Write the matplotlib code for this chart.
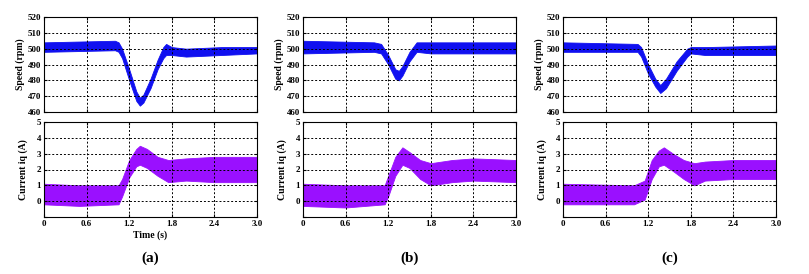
"""speed / iq response, three cases"""
import numpy as np
import matplotlib
matplotlib.use("Agg")
import matplotlib.pyplot as plt

plt.rcParams['font.family'] = ['Liberation Serif', 'DejaVu Serif']
plt.rcParams['font.weight'] = 'bold'

# envelope of the noisy traces: time, lower, upper
speed_a_t = [0, 1.0, 1.05, 1.1, 1.2, 1.3, 1.35, 1.4, 1.5, 1.6, 1.68, 1.72, 1.8, 2.0, 2.5, 3.0]
speed_a_lo = [498, 499, 498, 494, 480, 467, 464, 466, 475, 487, 494, 496, 496, 495, 496, 497]
speed_a_hi = [504, 505, 504, 500, 487, 473, 469, 471, 481, 493, 501, 503, 501, 500, 501, 501]

cur_a_t = [0, 0.5, 1.05, 1.1, 1.2, 1.3, 1.35, 1.45, 1.6, 1.75, 2.0, 2.4, 3.0]
cur_a_lo = [-0.2, -0.3, -0.2, 0.3, 1.5, 2.2, 2.3, 2.1, 1.6, 1.2, 1.3, 1.2, 1.2]
cur_a_hi = [1.1, 1.0, 1.0, 1.4, 2.6, 3.3, 3.5, 3.3, 2.8, 2.6, 2.7, 2.8, 2.8]

speed_b_t = [0, 1.0, 1.1, 1.2, 1.3, 1.35, 1.4, 1.5, 1.6, 1.8, 3.0]
speed_b_lo = [497, 498, 497, 490, 481, 480, 483, 492, 498, 497, 497]
speed_b_hi = [505, 504, 503, 496, 487, 486, 489, 498, 504, 504, 504]

cur_b_t = [0, 0.6, 1.15, 1.2, 1.3, 1.4, 1.5, 1.65, 1.8, 2.1, 2.4, 3.0]
cur_b_lo = [-0.3, -0.4, -0.2, 0.3, 1.6, 2.3, 2.1, 1.4, 1.0, 1.2, 1.3, 1.2]
cur_b_hi = [1.1, 1.0, 1.0, 1.6, 2.8, 3.4, 3.1, 2.6, 2.4, 2.6, 2.7, 2.6]

speed_c_t = [0, 1.05, 1.1, 1.2, 1.3, 1.37, 1.45, 1.6, 1.75, 1.8, 2.0, 3.0]
speed_c_lo = [498, 498, 495, 484, 476, 472, 475, 486, 495, 497, 496, 496]
speed_c_hi = [504, 503, 501, 490, 481, 477, 481, 492, 500, 501, 501, 502]

cur_c_t = [0, 1.0, 1.15, 1.25, 1.35, 1.42, 1.55, 1.7, 1.85, 2.0, 2.4, 3.0]
cur_c_lo = [-0.2, -0.2, 0.1, 1.4, 2.2, 2.3, 1.9, 1.4, 1.0, 1.3, 1.4, 1.4]
cur_c_hi = [1.1, 1.0, 1.3, 2.6, 3.2, 3.4, 3.0, 2.6, 2.4, 2.5, 2.6, 2.6]

panel_labels = ['(a)', '(b)', '(c)']
x_ticks = [0, 0.6, 1.2, 1.8, 2.4, 3.0]
x_ticklabels = ['0', '0.6', '1.2', '1.8', '2.4', '3.0']

SPEED_COLOR = '#1010f0'
CUR_COLOR = '#9a10ff'
W, H = 809, 274


def style_axes(ax):
    """grid, ticks, fonts"""
    ax.grid(color='black', ls=(0, (2, 2)), lw=0.7)
    ax.tick_params(direction='in', length=2, labelsize=6.5, pad=2,
                   top=True, right=True)
    for lbl in ax.get_xticklabels() + ax.get_yticklabels():
        lbl.set_fontweight('bold')
    for sp in ax.spines.values():
        sp.set_linewidth(0.8)


def main():
    """main"""
    fig = plt.figure(figsize=(W / 100, H / 100), dpi=100)
    lefts = [44, 303, 563]
    width = 213
    speeds = [(speed_a_t, speed_a_lo, speed_a_hi),
              (speed_b_t, speed_b_lo, speed_b_hi),
              (speed_c_t, speed_c_lo, speed_c_hi)]
    currents = [(cur_a_t, cur_a_lo, cur_a_hi),
                (cur_b_t, cur_b_lo, cur_b_hi),
                (cur_c_t, cur_c_lo, cur_c_hi)]

    for i in range(3):
        x0 = lefts[i] / W
        w = width / W
        ax1 = fig.add_axes([x0, 1 - 112 / H, w, 95 / H])
        ax2 = fig.add_axes([x0, 1 - 217 / H, w, 95 / H])

        t, lo, hi = speeds[i]
        ax1.fill_between(t, lo, hi, color=SPEED_COLOR, lw=0.6, edgecolor=SPEED_COLOR)
        ax1.set_xlim(0, 3.0)
        ax1.set_ylim(460, 520)
        ax1.set_yticks(np.arange(460, 521, 10))
        ax1.set_xticks(x_ticks)
        ax1.set_xticklabels([])
        ax1.set_ylabel('Speed (rpm)', fontsize=7, fontweight='bold', labelpad=2)
        style_axes(ax1)

        t, lo, hi = currents[i]
        ax2.fill_between(t, lo, hi, color=CUR_COLOR, lw=0.6, edgecolor=CUR_COLOR)
        ax2.set_xlim(0, 3.0)
        ax2.set_ylim(-1, 5)
        ax2.set_yticks([-1, 0, 1, 2, 3, 4, 5])
        ax2.set_yticklabels(['', '0', '1', '2', '3', '4', '5'])
        ax2.set_xticks(x_ticks)
        ax2.set_xticklabels(x_ticklabels)
        ax2.set_ylabel('Current iq (A)', fontsize=7, fontweight='bold', labelpad=6)
        if i == 0:
            ax2.set_xlabel('Time (s)', fontsize=7, fontweight='bold', labelpad=2)
        style_axes(ax2)

        fig.text(x0 + w / 2, 1 - 258 / H, panel_labels[i], ha='center', va='center',
                 fontsize=11, fontweight='bold')

    fig.savefig('out.png', dpi=100)
    plt.close('all')


if __name__ == "__main__":
    main()
